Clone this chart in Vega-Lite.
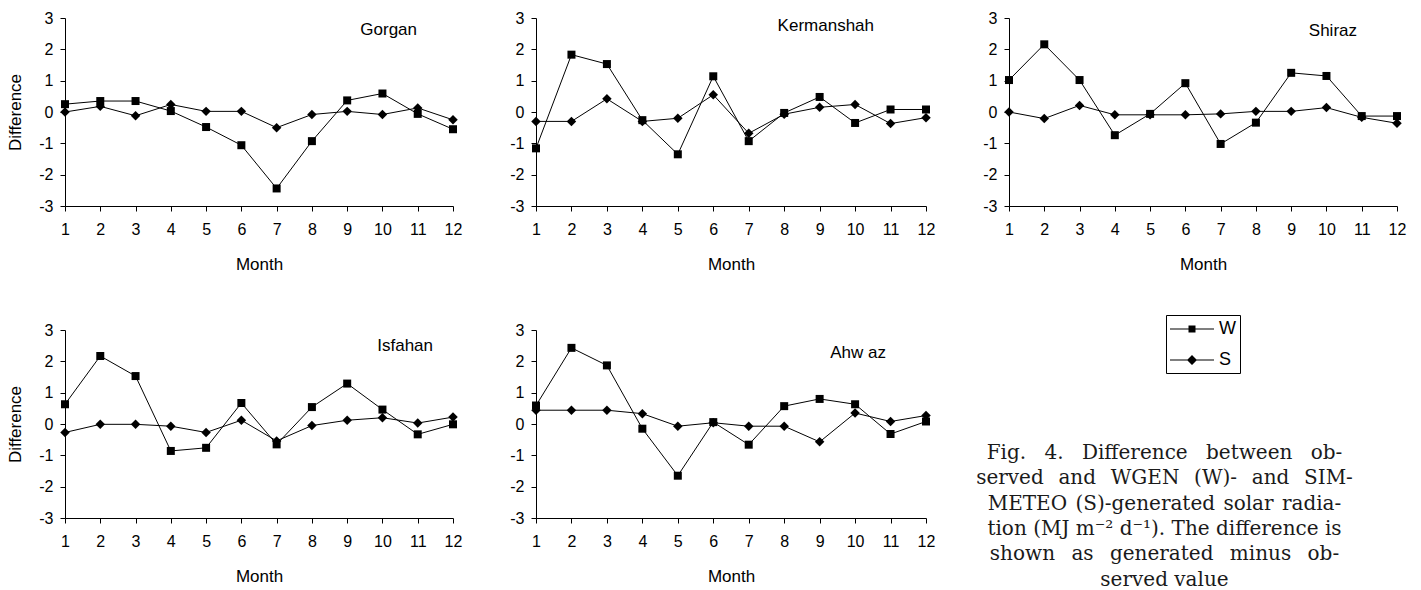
{
  "$schema": "https://vega.github.io/schema/vega-lite/v6.json",
  "background": "white",
  "padding": {"left": 6, "top": 10, "right": 5, "bottom": 0},
  "config": {
    "view": {"stroke": null},
    "font": "Liberation Sans",
    "axis": {"domainColor": "black", "tickColor": "black", "labelColor": "black", "titleColor": "black", "labelFont": "Liberation Sans", "titleFont": "Liberation Sans", "labelFontSize": 16, "titleFontSize": 17, "titleFontWeight": "normal", "grid": false, "labelFlush": false, "labelOverlap": false, "tickSize": 5, "domainWidth": 1, "tickWidth": 1, "labelExpr": "'' + datum.value"},
    "axisX": {"values": [1,2,3,4,5,6,7,8,9,10,11,12], "labelPadding": 10, "titlePadding": 19},
    "axisY": {"values": [-3,-2,-1,0,1,2,3], "labelPadding": 7, "titlePadding": 14},
    "title": {"font": "Liberation Sans", "fontSize": 17, "fontWeight": "normal", "color": "black", "anchor": "end", "frame": "group", "offset": 0, "baseline": "alphabetic"},
    "legend": {"title": null, "orient": "none", "legendX": 1101, "legendY": 297, "strokeColor": "black", "padding": 4, "symbolOffset": 12, "symbolSize": 400, "symbolStrokeWidth": 0, "symbolFillColor": "black", "symbolOpacity": 1, "labelFont": "Liberation Sans", "labelFontSize": 18, "labelColor": "black", "rowPadding": 12, "labelOffset": 17}
  },
  "datasets": {
    "d": [
      {"station": "Gorgan", "month": 1, "W": 0.25, "S": 0.0},
      {"station": "Gorgan", "month": 2, "W": 0.35, "S": 0.18},
      {"station": "Gorgan", "month": 3, "W": 0.35, "S": -0.12},
      {"station": "Gorgan", "month": 4, "W": 0.03, "S": 0.24},
      {"station": "Gorgan", "month": 5, "W": -0.48, "S": 0.02},
      {"station": "Gorgan", "month": 6, "W": -1.06, "S": 0.02},
      {"station": "Gorgan", "month": 7, "W": -2.44, "S": -0.5},
      {"station": "Gorgan", "month": 8, "W": -0.93, "S": -0.08},
      {"station": "Gorgan", "month": 9, "W": 0.37, "S": 0.02},
      {"station": "Gorgan", "month": 10, "W": 0.59, "S": -0.08},
      {"station": "Gorgan", "month": 11, "W": -0.06, "S": 0.13},
      {"station": "Gorgan", "month": 12, "W": -0.55, "S": -0.25},
      {"station": "Kermanshah", "month": 1, "W": -1.16, "S": -0.3},
      {"station": "Kermanshah", "month": 2, "W": 1.83, "S": -0.3},
      {"station": "Kermanshah", "month": 3, "W": 1.53, "S": 0.42},
      {"station": "Kermanshah", "month": 4, "W": -0.26, "S": -0.3},
      {"station": "Kermanshah", "month": 5, "W": -1.35, "S": -0.2},
      {"station": "Kermanshah", "month": 6, "W": 1.14, "S": 0.55},
      {"station": "Kermanshah", "month": 7, "W": -0.93, "S": -0.68},
      {"station": "Kermanshah", "month": 8, "W": -0.03, "S": -0.07},
      {"station": "Kermanshah", "month": 9, "W": 0.48, "S": 0.15},
      {"station": "Kermanshah", "month": 10, "W": -0.35, "S": 0.24},
      {"station": "Kermanshah", "month": 11, "W": 0.08, "S": -0.37},
      {"station": "Kermanshah", "month": 12, "W": 0.08, "S": -0.18},
      {"station": "Shiraz", "month": 1, "W": 1.02, "S": 0.0},
      {"station": "Shiraz", "month": 2, "W": 2.16, "S": -0.21},
      {"station": "Shiraz", "month": 3, "W": 1.02, "S": 0.21},
      {"station": "Shiraz", "month": 4, "W": -0.74, "S": -0.09},
      {"station": "Shiraz", "month": 5, "W": -0.06, "S": -0.09},
      {"station": "Shiraz", "month": 6, "W": 0.92, "S": -0.09},
      {"station": "Shiraz", "month": 7, "W": -1.02, "S": -0.06},
      {"station": "Shiraz", "month": 8, "W": -0.34, "S": 0.02},
      {"station": "Shiraz", "month": 9, "W": 1.25, "S": 0.02},
      {"station": "Shiraz", "month": 10, "W": 1.15, "S": 0.14},
      {"station": "Shiraz", "month": 11, "W": -0.13, "S": -0.17},
      {"station": "Shiraz", "month": 12, "W": -0.13, "S": -0.36},
      {"station": "Isfahan", "month": 1, "W": 0.63, "S": -0.27},
      {"station": "Isfahan", "month": 2, "W": 2.17, "S": -0.01},
      {"station": "Isfahan", "month": 3, "W": 1.53, "S": -0.01},
      {"station": "Isfahan", "month": 4, "W": -0.86, "S": -0.07},
      {"station": "Isfahan", "month": 5, "W": -0.76, "S": -0.27},
      {"station": "Isfahan", "month": 6, "W": 0.67, "S": 0.12},
      {"station": "Isfahan", "month": 7, "W": -0.65, "S": -0.54},
      {"station": "Isfahan", "month": 8, "W": 0.54, "S": -0.05},
      {"station": "Isfahan", "month": 9, "W": 1.29, "S": 0.12},
      {"station": "Isfahan", "month": 10, "W": 0.46, "S": 0.2},
      {"station": "Isfahan", "month": 11, "W": -0.33, "S": 0.03},
      {"station": "Isfahan", "month": 12, "W": -0.01, "S": 0.22},
      {"station": "Ahwaz", "month": 1, "W": 0.59, "S": 0.44},
      {"station": "Ahwaz", "month": 2, "W": 2.43, "S": 0.44},
      {"station": "Ahwaz", "month": 3, "W": 1.87, "S": 0.44},
      {"station": "Ahwaz", "month": 4, "W": -0.15, "S": 0.33},
      {"station": "Ahwaz", "month": 5, "W": -1.65, "S": -0.07},
      {"station": "Ahwaz", "month": 6, "W": 0.06, "S": 0.04},
      {"station": "Ahwaz", "month": 7, "W": -0.66, "S": -0.07},
      {"station": "Ahwaz", "month": 8, "W": 0.57, "S": -0.07},
      {"station": "Ahwaz", "month": 9, "W": 0.8, "S": -0.57},
      {"station": "Ahwaz", "month": 10, "W": 0.63, "S": 0.35},
      {"station": "Ahwaz", "month": 11, "W": -0.32, "S": 0.08},
      {"station": "Ahwaz", "month": 12, "W": 0.08, "S": 0.27}
    ],
    "cap": [
      {"caption": "Fig. \u2002\u200a4. \u2002\u200aDifference \u2002\u200abetween \u2002\u200aob-\nserved \u00a0\u200aand \u00a0\u200aWGEN \u00a0\u200a(W)- \u00a0\u200aand \u00a0\u200aSIM-\nMETEO \u200a(S)-generated \u200asolar \u200aradia-\ntion (MJ m⁻² d⁻¹). The difference is\nshown \u2002as \u2002generated \u2002minus \u2002ob-\nserved value"}
    ]
  },
  "data": {"name": "d"},
  "columns": 3,
  "spacing": {"row": 124, "column": 83},
  "bounds": "flush",
  "concat": [
    {
      "width": 388, "height": 188,
      "title": {"text": "Gorgan", "dx": -36, "dy": 33},
      "transform": [{"filter": "datum.station === 'Gorgan'"}, {"fold": ["W", "S"], "as": ["series", "value"]}],
      "encoding": {
        "x": {"field": "month", "type": "quantitative", "scale": {"domain": [1, 12], "nice": false, "zero": false}, "axis": {"title": "Month"}},
        "y": {"field": "value", "type": "quantitative", "scale": {"domain": [-3, 3], "nice": false}, "axis": {"title": "Difference"}}
      },
      "layer": [
        {"mark": {"type": "line", "color": "black", "strokeWidth": 1}, "encoding": {"detail": {"field": "series"}}},
        {"mark": {"type": "point", "filled": true, "color": "black", "opacity": 1},
         "encoding": {
           "shape": {"condition": {"test": "datum.series === 'W'", "value": "square"}, "value": "diamond"},
           "size": {"condition": {"test": "datum.series === 'W'", "value": 64}, "value": 90}
         }},
        {"mark": {"type": "point", "filled": true, "color": "black", "opacity": 0},
         "encoding": {
           "shape": {"field": "series", "type": "nominal", "scale": {"domain": ["W", "S"], "range": ["M-2.2,-0.05H2.2V0.05H-2.2ZM-0.35,-0.35H0.35V0.35H-0.35Z", "M-2.2,-0.05H2.2V0.05H-2.2ZM0,-0.5L0.5,0L0,0.5L-0.5,0Z"]}}
         }}
      ]
    },
    {
      "width": 390, "height": 188,
      "title": {"text": "Kermanshah", "dx": -52, "dy": 29},
      "transform": [{"filter": "datum.station === 'Kermanshah'"}, {"fold": ["W", "S"], "as": ["series", "value"]}],
      "encoding": {
        "x": {"field": "month", "type": "quantitative", "scale": {"domain": [1, 12], "nice": false, "zero": false}, "axis": {"title": "Month"}},
        "y": {"field": "value", "type": "quantitative", "scale": {"domain": [-3, 3], "nice": false}, "axis": {"title": null}}
      },
      "layer": [
        {"mark": {"type": "line", "color": "black", "strokeWidth": 1}, "encoding": {"detail": {"field": "series"}}},
        {"mark": {"type": "point", "filled": true, "color": "black", "opacity": 1},
         "encoding": {
           "shape": {"condition": {"test": "datum.series === 'W'", "value": "square"}, "value": "diamond"},
           "size": {"condition": {"test": "datum.series === 'W'", "value": 64}, "value": 90}
         }}
      ]
    },
    {
      "width": 388, "height": 188,
      "title": {"text": "Shiraz", "dx": -40, "dy": 34},
      "transform": [{"filter": "datum.station === 'Shiraz'"}, {"fold": ["W", "S"], "as": ["series", "value"]}],
      "encoding": {
        "x": {"field": "month", "type": "quantitative", "scale": {"domain": [1, 12], "nice": false, "zero": false}, "axis": {"title": "Month"}},
        "y": {"field": "value", "type": "quantitative", "scale": {"domain": [-3, 3], "nice": false}, "axis": {"title": null}}
      },
      "layer": [
        {"mark": {"type": "line", "color": "black", "strokeWidth": 1}, "encoding": {"detail": {"field": "series"}}},
        {"mark": {"type": "point", "filled": true, "color": "black", "opacity": 1},
         "encoding": {
           "shape": {"condition": {"test": "datum.series === 'W'", "value": "square"}, "value": "diamond"},
           "size": {"condition": {"test": "datum.series === 'W'", "value": 64}, "value": 90}
         }}
      ]
    },
    {
      "width": 388, "height": 188,
      "title": {"text": "Isfahan", "dx": -20, "dy": 37},
      "transform": [{"filter": "datum.station === 'Isfahan'"}, {"fold": ["W", "S"], "as": ["series", "value"]}],
      "encoding": {
        "x": {"field": "month", "type": "quantitative", "scale": {"domain": [1, 12], "nice": false, "zero": false}, "axis": {"title": "Month"}},
        "y": {"field": "value", "type": "quantitative", "scale": {"domain": [-3, 3], "nice": false}, "axis": {"title": "Difference"}}
      },
      "layer": [
        {"mark": {"type": "line", "color": "black", "strokeWidth": 1}, "encoding": {"detail": {"field": "series"}}},
        {"mark": {"type": "point", "filled": true, "color": "black", "opacity": 1},
         "encoding": {
           "shape": {"condition": {"test": "datum.series === 'W'", "value": "square"}, "value": "diamond"},
           "size": {"condition": {"test": "datum.series === 'W'", "value": 64}, "value": 90}
         }}
      ]
    },
    {
      "width": 390, "height": 188,
      "title": {"text": "Ahw az", "dx": -40, "dy": 44},
      "transform": [{"filter": "datum.station === 'Ahwaz'"}, {"fold": ["W", "S"], "as": ["series", "value"]}],
      "encoding": {
        "x": {"field": "month", "type": "quantitative", "scale": {"domain": [1, 12], "nice": false, "zero": false}, "axis": {"title": "Month"}},
        "y": {"field": "value", "type": "quantitative", "scale": {"domain": [-3, 3], "nice": false}, "axis": {"title": null}}
      },
      "layer": [
        {"mark": {"type": "line", "color": "black", "strokeWidth": 1}, "encoding": {"detail": {"field": "series"}}},
        {"mark": {"type": "point", "filled": true, "color": "black", "opacity": 1},
         "encoding": {
           "shape": {"condition": {"test": "datum.series === 'W'", "value": "square"}, "value": "diamond"},
           "size": {"condition": {"test": "datum.series === 'W'", "value": 64}, "value": 90}
         }}
      ]
    },
    {
      "width": 311, "height": 258,
      "data": {"name": "cap"},
      "mark": {"type": "text", "font": "DejaVu Serif", "fontSize": 20, "lineHeight": 25.3, "lineBreak": "\n", "align": "center", "baseline": "alphabetic", "color": "#1a1a1a"},
      "encoding": {
        "text": {"field": "caption", "type": "nominal"}
      }
    }
  ]
}
